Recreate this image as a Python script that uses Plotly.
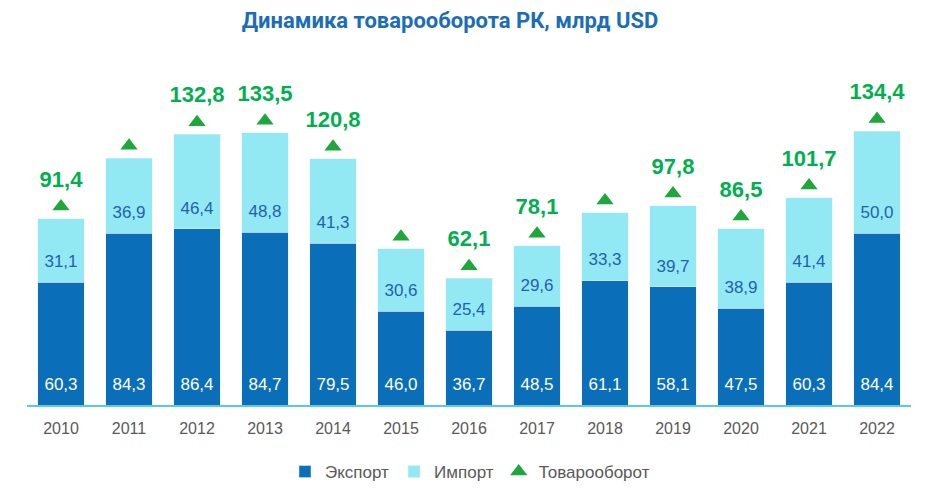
import plotly.graph_objects as go

# Data
years = ["2010", "2011", "2012", "2013", "2014", "2015", "2016",
         "2017", "2018", "2019", "2020", "2021", "2022"]
export = [60.3, 84.3, 86.4, 84.7, 79.5, 46.0, 36.7, 48.5, 61.1, 58.1, 47.5, 60.3, 84.4]
imports = [31.1, 36.9, 46.4, 48.8, 41.3, 30.6, 25.4, 29.6, 33.3, 39.7, 38.9, 41.4, 50.0]
turnover = [91.4, 121.2, 132.8, 133.5, 120.8, 76.6, 62.1, 78.1, 94.4, 97.8, 86.5, 101.7, 134.4]
# years whose turnover value is printed above the bar
labelled = ["2010", "2012", "2013", "2014", "2016", "2017", "2019", "2020", "2021", "2022"]

EXP_COL = "#0A6EB8"
IMP_COL = "#92E9F3"
GREEN = "#00B050"
TRI_COL = "#1EA83C"
FONT = "Liberation Sans, Arial, sans-serif"


def fmt(v):
    return f"{v:.1f}".replace(".", ",")


fig = go.Figure()

fig.add_trace(go.Bar(x=years, y=export, name="Экспорт", marker_color=EXP_COL,
                     hoverinfo="y"))
fig.add_trace(go.Bar(x=years, y=imports, name="Импорт", marker_color=IMP_COL,
                     hoverinfo="y"))

# triangles above the bars
fig.add_trace(go.Scatter(x=years, y=[t + 6 for t in turnover], name="Товарооборот",
                         mode="markers",
                         marker=dict(symbol="triangle-up", size=15, color=TRI_COL),
                         cliponaxis=False, hoverinfo="skip"))

# value labels inside the bars (near the base of each segment)
fig.add_trace(go.Scatter(x=years, y=[9.5] * len(years), mode="text",
                         text=[fmt(v) for v in export],
                         textfont=dict(family=FONT, size=17, color="white"),
                         showlegend=False, hoverinfo="skip"))
fig.add_trace(go.Scatter(x=years, y=[e + 9.5 for e in export], mode="text",
                         text=[fmt(v) for v in imports],
                         textfont=dict(family=FONT, size=17, color="#1F62AE"),
                         showlegend=False, hoverinfo="skip"))

# turnover labels
fig.add_trace(go.Scatter(x=years, y=[t + 18.5 for t in turnover], mode="text",
                         text=[fmt(t) if y in labelled else "" for y, t in zip(years, turnover)],
                         textfont=dict(family=FONT, size=22, color=GREEN, weight="bold"),
                         cliponaxis=False, showlegend=False, hoverinfo="skip"))

# page body adds an 8px offset, margins below account for it
fig.update_layout(
    width=925, height=491,
    barmode="stack", bargap=0.31,
    plot_bgcolor="white", paper_bgcolor="white",
    margin=dict(l=19, r=22, t=71, b=94),
    font=dict(family=FONT, color="#595959"),
    title=dict(text="<b>Динамика товарооборота РК, млрд USD</b>",
               x=(450 - 8) / 925, xanchor="center", y=1 - 5 / 491, yanchor="top",
               xref="container", yref="container", pad=dict(t=0, b=0),
               font=dict(family="Roboto, sans-serif", size=22, color="#1C6DB7")),
    legend=dict(orientation="h", x=(470 - 8) / 925, xanchor="center", xref="container",
                y=1 - 464 / 491, yanchor="middle", yref="container",
                font=dict(size=17, color="#595959"), traceorder="normal",
                itemwidth=30, tracegroupgap=0),
    showlegend=True,
)
fig.update_xaxes(range=[-0.5, 12.5], showline=True, linecolor="#5BC8E8", linewidth=1.5,
                 ticks="", tickfont=dict(size=16, color="#595959"),
                 ticklabelstandoff=8, showgrid=False)
fig.update_yaxes(range=[0, 160], visible=False, showgrid=False)

fig.write_html("out.html")
